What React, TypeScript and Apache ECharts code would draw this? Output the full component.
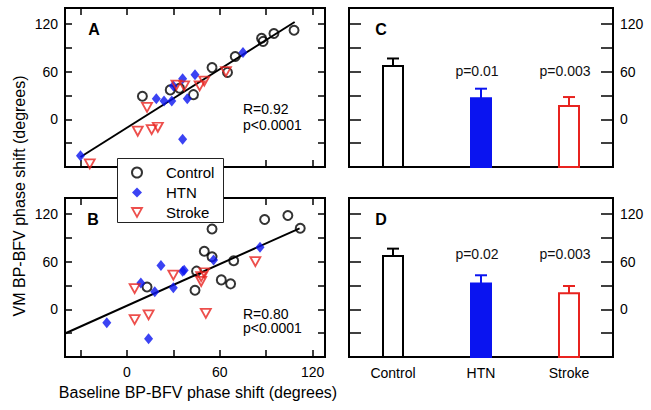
import React, { useEffect, useRef } from "react";
import * as echarts from "echarts";

// ---------- data ----------
const controlA = [[10, 29], [28, 37], [34, 39], [43, 31], [55, 65], [65, 59], [70, 79], [87, 102], [88, 98], [95, 108], [108, 112]];
const htnA = [[-30, -46], [19, 26], [24, 23], [29, 23], [30, 42], [36, 51], [44, 56], [39, 26], [36, -25], [75, 84]];
const strokeA = [[-24, -56], [7, -15], [13, 15], [16, -13], [20, -10], [32, 43], [37, 42], [47, 42], [50, 48], [64, 60]];
const fitA = [[-30, -47.4], [108.4, 122.4]];
const statsA = "R=0.92\np<0.0001";

const controlB = [[13, 28], [44, 24], [45, 48], [50, 73], [55, 101], [55, 66], [61, 37], [67, 32], [69, 61], [89, 113], [104, 118], [112, 102]];
const htnB = [[-13, -17], [9, 33], [22, 55], [18, 22], [14, -37], [30, 27], [36, 48], [37, 49], [56, 62], [86, 78]];
const strokeB = [[5, 26], [5, -13], [14, -7], [30, 43], [48, 41], [48, 35], [50, 46], [51, -5], [83, 60]];
const fitB = [[-40, -30.4], [111.6, 101.9]];
const statsB = "R=0.80\np<0.0001";

const groups = ["Control", "HTN", "Stroke"];
const meanC = [67, 26.5, 16.7];
const errC = [9.5, 12, 11.3];
const pC = ["", "p=0.01", "p=0.003"];
const meanD = [67, 32.3, 20.1];
const errD = [9.3, 10.5, 9.2];
const pD = ["", "p=0.02", "p=0.003"];

const xTicks = [-30, 0, 30, 60, 90, 120];
const xLabels = [0, 60, 120];
const yTicks = [-30, 0, 30, 60, 90, 120];
const yLabels = [0, 60, 120];

// ---------- styles ----------
const FONT = "'Liberation Sans', Arial, Helvetica, sans-serif";
const BLACK = "#000000";
const BLUE = "#0a14f0";
const RED = "#e8231f";
const TRI_DOWN = "path://M0,0L10,0L5,9Z";
const X_MIN = -40;
const X_MAX = 128;
const Y_MIN = -60;
const Y_MAX = 140;

const barStroke = [BLACK, BLUE, RED];
const barFill = ["#ffffff", BLUE, "#ffffff"];

const tickLine = { color: BLACK, width: 1.5 };

function scatterX(gridIndex: number, position: string, showLabels: boolean) {
  return {
    type: "value",
    gridIndex,
    position,
    min: X_MIN,
    max: X_MAX,
    axisLine: { show: false, onZero: false },
    splitLine: { show: false },
    axisTick: { show: true, inside: true, length: 7, customValues: xTicks, lineStyle: tickLine },
    axisLabel: { show: showLabels, customValues: xLabels, margin: 8, fontSize: 14, color: BLACK, fontFamily: FONT },
  };
}

function valY(gridIndex: number, position: string, showLabels: boolean, tickLen: number) {
  return {
    type: "value",
    gridIndex,
    position,
    min: Y_MIN,
    max: Y_MAX,
    axisLine: { show: false, onZero: false },
    splitLine: { show: false },
    axisTick: { show: true, inside: true, length: tickLen, customValues: yTicks, lineStyle: tickLine },
    axisLabel: { show: showLabels, customValues: yLabels, margin: 7, fontSize: 14, color: BLACK, fontFamily: FONT },
  };
}

function catX(gridIndex: number, showLabels: boolean) {
  return {
    type: "category",
    gridIndex,
    data: groups,
    axisLine: { show: false, onZero: false },
    axisTick: { show: false },
    splitLine: { show: false },
    axisLabel: { show: showLabels, margin: 9, fontSize: 14, color: BLACK, fontFamily: FONT },
  };
}

function scatterSeries(xi: number, yi: number, c: number[][], h: number[][], s: number[][], fit: number[][]) {
  return [
    {
      type: "line", xAxisIndex: xi, yAxisIndex: yi, data: fit, symbol: "none",
      lineStyle: { color: BLACK, width: 2 }, silent: true, z: 2,
    },
    {
      type: "scatter", name: "Control", xAxisIndex: xi, yAxisIndex: yi, data: c, symbol: "circle", symbolSize: 9,
      itemStyle: { color: "rgba(0,0,0,0)", borderColor: BLACK, borderWidth: 2 }, silent: true, z: 3,
    },
    {
      type: "scatter", name: "HTN", xAxisIndex: xi, yAxisIndex: yi, data: h, symbol: "diamond", symbolSize: [9, 11],
      itemStyle: { color: BLUE }, silent: true, z: 3,
    },
    {
      type: "scatter", name: "Stroke", xAxisIndex: xi, yAxisIndex: yi, data: s, symbol: TRI_DOWN, symbolSize: [10, 9],
      itemStyle: { color: "rgba(0,0,0,0)", borderColor: RED, borderWidth: 1.8 }, silent: true, z: 3,
    },
  ];
}

function barSeries(xi: number, yi: number, means: number[], errs: number[], name: string) {
  return {
    type: "custom",
    name,
    xAxisIndex: xi,
    yAxisIndex: yi,
    silent: true,
    z: 2,
    data: means.map((m, i) => [i, m, errs[i]]),
    renderItem: (params: any, api: any) => {
      const i = api.value(0);
      const m = api.value(1);
      const e = api.value(2);
      const top = api.coord([i, m]);
      const base = api.coord([i, Y_MIN]);
      const et = api.coord([i, m + e]);
      const col = barStroke[params.dataIndex];
      return {
        type: "group",
        children: [
          { type: "line", shape: { x1: top[0], y1: top[1], x2: et[0], y2: et[1] }, style: { stroke: col, lineWidth: 2 } },
          { type: "line", shape: { x1: et[0] - 6, y1: et[1], x2: et[0] + 6, y2: et[1] }, style: { stroke: col, lineWidth: 2 } },
          {
            type: "rect",
            shape: { x: top[0] - 10, y: top[1], width: 20, height: base[1] - top[1] },
            style: { fill: barFill[params.dataIndex], stroke: col, lineWidth: 2 },
          },
        ],
      };
    },
  };
}

function pSeries(xi: number, yi: number, labels: string[], yLevel: number, name: string) {
  return {
    type: "custom",
    name,
    xAxisIndex: xi,
    yAxisIndex: yi,
    silent: true,
    z: 2,
    data: labels.map((_, i) => [i]),
    renderItem: (params: any, api: any) => {
      const p = api.coord([api.value(0), yLevel]);
      return {
        type: "text",
        x: p[0] - 4,
        y: p[1],
        style: {
          text: labels[params.dataIndex],
          fontSize: 14,
          fontFamily: FONT,
          fill: "#111",
          align: "center",
          verticalAlign: "middle",
          textAlign: "center",
          textVerticalAlign: "middle",
        },
      };
    },
  };
}

function txt(x: number, y: number, text: string, size: number, weight: string, extra: any = {}) {
  return {
    type: "text",
    x,
    y,
    z: 10,
    ...extra,
    style: {
      text,
      fontSize: size,
      fontWeight: weight,
      fontFamily: FONT,
      fill: BLACK,
      align: extra.align || "center",
      textAlign: extra.align || "center",
      verticalAlign: extra.va || "middle",
      textVerticalAlign: extra.va || "middle",
      lineHeight: extra.lh || size,
    },
  };
}

const gridBase = { show: true, borderColor: BLACK, borderWidth: 2, backgroundColor: "transparent" };

const option: any = {
  animation: false,
  textStyle: { fontFamily: FONT },
  grid: [
    { ...gridBase, left: 65, top: 8, width: 260, height: 159 },
    { ...gridBase, left: 65, top: 198, width: 260, height: 159 },
    { ...gridBase, left: 349, top: 8, width: 264, height: 159 },
    { ...gridBase, left: 349, top: 198, width: 264, height: 159 },
  ],
  xAxis: [
    scatterX(0, "bottom", false),
    scatterX(0, "top", false),
    scatterX(1, "bottom", true),
    scatterX(1, "top", false),
    catX(2, false),
    catX(3, true),
  ],
  yAxis: [
    valY(0, "left", true, 7),
    valY(0, "right", false, 7),
    valY(1, "left", true, 7),
    valY(1, "right", false, 7),
    valY(2, "left", false, 12),
    valY(2, "right", true, 12),
    valY(3, "left", false, 12),
    valY(3, "right", true, 12),
  ],
  legend: {
    orient: "vertical",
    left: 131,
    top: 165,
    padding: 0,
    itemGap: 5,
    itemWidth: 10,
    itemHeight: 10,
    selectedMode: false,
    z: 20,
    textStyle: { fontSize: 15, fontFamily: FONT, color: BLACK, padding: [0, 0, 0, 19] },
    data: [
      { name: "Control", icon: "circle", itemStyle: { color: "rgba(0,0,0,0)", borderColor: BLACK, borderWidth: 2 } },
      { name: "HTN", icon: "diamond", itemStyle: { color: BLUE, borderWidth: 0 } },
      { name: "Stroke", icon: TRI_DOWN, itemStyle: { color: "rgba(0,0,0,0)", borderColor: RED, borderWidth: 1.8 } },
    ],
  },
  graphic: [
    {
      type: "rect",
      z: 15,
      shape: { x: 117.5, y: 158.5, width: 106, height: 64 },
      style: { fill: "#ffffff", stroke: "#222", lineWidth: 1 },
    },
    txt(94, 29, "A", 16, "bold"),
    txt(93, 219, "B", 16, "bold"),
    txt(381, 29, "C", 16, "bold"),
    txt(381, 219, "D", 16, "bold"),
    txt(243, 101.5, statsA, 14, "normal", { align: "left", va: "top", lh: 15.5 }),
    txt(243, 306.5, statsB, 14, "normal", { align: "left", va: "top", lh: 14.5 }),
    txt(198, 392, "Baseline BP-BFV phase shift (degrees)", 16, "normal"),
    txt(19, 196, "VM BP-BFV phase shift (degrees)", 16, "normal", { rotation: Math.PI / 2 }),
  ],
  series: [
    ...scatterSeries(0, 0, controlA, htnA, strokeA, fitA),
    ...scatterSeries(2, 2, controlB, htnB, strokeB, fitB),
    barSeries(4, 5, meanC, errC, "barsC"),
    barSeries(5, 7, meanD, errD, "barsD"),
    pSeries(4, 5, pC, 61, "pC"),
    pSeries(5, 7, pD, 69, "pD"),
  ],
};

export default function App() {
  const ref = useRef<HTMLDivElement>(null);
  useEffect(() => {
    const chart = echarts.init(ref.current as HTMLDivElement, null, { renderer: "svg" });
    chart.setOption(option);
    return () => chart.dispose();
  }, []);
  return (
    <div
      ref={ref}
      style={{ position: "absolute", left: 0, top: 0, width: 651, height: 410, background: "#ffffff" }}
    />
  );
}
